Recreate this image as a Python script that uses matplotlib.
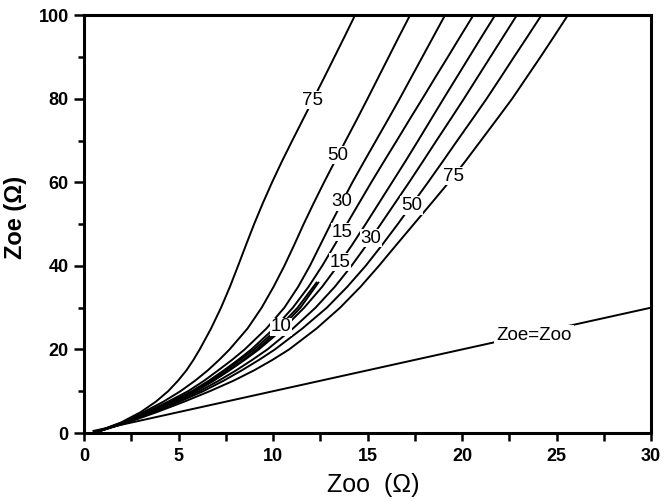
import numpy as np
import matplotlib
matplotlib.use("Agg")
import matplotlib.pyplot as plt
from matplotlib.ticker import MultipleLocator

# Zoe levels at which each curve's Zoo value was read
zoe_levels = [0, 2.5, 5, 7.5, 10, 12.5, 15, 17.5, 20, 25, 30, 35, 40, 45,
              50, 55, 60, 65, 70, 75, 80, 85, 90, 95, 100]

# left family
c75a = [0.5, 1.95, 3.0, 3.8, 4.45, 4.97, 5.42, 5.79, 6.12, 6.72, 7.25, 7.72, 8.15, 8.57,
        9.0, 9.46, 9.95, 10.47, 11.02, 11.58, 12.14, 12.7, 13.25, 13.8, 14.34]
c50a = [0.5, 2.0, 3.15, 4.2, 5.1, 5.87, 6.55, 7.15, 7.7, 8.65, 9.4, 10.03, 10.6, 11.12,
        11.62, 12.15, 12.7, 13.27, 13.85, 14.43, 15.0, 15.56, 16.12, 16.68, 17.25]
c30a = [0.5, 2.05, 3.3, 4.45, 5.5, 6.35, 7.1, 7.83, 8.5, 9.65, 10.6, 11.33, 11.95, 12.5,
        13.05, 13.62, 14.2, 14.82, 15.45, 16.08, 16.7, 17.3, 17.9, 18.5, 19.1]
c15a = [0.5, 2.1, 3.4, 4.6, 5.7, 6.6, 7.4, 8.15, 8.85, 10.05, 11.05, 11.88, 12.6, 13.26,
        13.9, 14.55, 15.2, 15.87, 16.55, 17.22, 17.9, 18.57, 19.25, 19.92, 20.6]
# right family
c15b = [0.5, 2.15, 3.5, 4.75, 5.9, 6.85, 7.7, 8.5, 9.25, 10.55, 11.65, 12.6, 13.42, 14.18,
        14.9, 15.6, 16.3, 17.0, 17.68, 18.35, 19.02, 19.7, 20.38, 21.06, 21.75]
c30b = [0.5, 2.2, 3.6, 4.9, 6.1, 7.12, 8.05, 8.9, 9.7, 11.05, 12.25, 13.27, 14.15, 14.95,
        15.7, 16.45, 17.2, 17.93, 18.65, 19.38, 20.1, 20.8, 21.5, 22.2, 22.9]
c50b = [0.5, 2.25, 3.7, 5.05, 6.3, 7.38, 8.35, 9.26, 10.1, 11.55, 12.85, 13.93, 14.9, 15.77,
        16.6, 17.4, 18.2, 18.98, 19.75, 20.53, 21.3, 22.03, 22.75, 23.48, 24.2]
c75b = [0.5, 2.3, 3.85, 5.3, 6.65, 7.9, 9.0, 9.97, 10.85, 12.3, 13.55, 14.63, 15.6, 16.52,
        17.45, 18.38, 19.3, 20.17, 21.0, 21.83, 22.65, 23.4, 24.15, 24.88, 25.6]

# short "10" curves (both families)
zoe_short = [0, 2.5, 5, 7.5, 10, 12.5, 15, 17.5, 20, 25, 30, 36]
c10a = [0.5, 2.1, 3.4, 4.65, 5.8, 6.7, 7.5, 8.27, 9.0, 10.25, 11.3, 12.3]
c10b = [0.5, 2.12, 3.45, 4.72, 5.9, 6.82, 7.65, 8.43, 9.15, 10.4, 11.45, 12.4]

# Zoe = Zoo reference line
ref_zoo = [0.5, 30]
ref_zoe = [0.5, 30]

curves = [c75a, c50a, c30a, c15a, c15b, c30b, c50b, c75b]
curve_labels = ["75", "50", "30", "15", "15", "30", "50", "75"]
label_zoe = [79.7, 66.5, 55.3, 48.1, 40.9, 46.65, 54.5, 61.5]

fig = plt.figure(figsize=(6.64, 5.01), dpi=100)
ax = fig.add_axes([0.1265, 0.1357, 0.854, 0.834])

lw = 1.4
for c in curves:
    ax.plot(c, zoe_levels, color="black", lw=lw, zorder=2, solid_joinstyle="round")
ax.plot(c10a, zoe_short, color="black", lw=lw, zorder=2, solid_joinstyle="round")
ax.plot(c10b, zoe_short, color="black", lw=lw, zorder=2, solid_joinstyle="round")
ax.plot(ref_zoo, ref_zoe, color="black", lw=lw, zorder=2)

lbl_font = dict(family="Liberation Sans", fontsize=13.5, ha="center", va="center", zorder=5)
bbox = dict(facecolor="white", edgecolor="none", pad=0.5)
for c, t, z in zip(curves, curve_labels, label_zoe):
    x = np.interp(z, zoe_levels, c)
    ax.text(x, z, t, bbox=bbox, **lbl_font)
ax.text(np.interp(25.4, zoe_short, c10a) + 0.1, 25.4, "10", bbox=bbox, **lbl_font)
ax.text(23.8, 23.4, "Zoe=Zoo", bbox=dict(facecolor="white", edgecolor="none", pad=1.5), **lbl_font)

ax.set_xlim(0, 30)
ax.set_ylim(0, 100)
ax.xaxis.set_major_locator(MultipleLocator(5))
ax.xaxis.set_minor_locator(MultipleLocator(2.5))
ax.yaxis.set_major_locator(MultipleLocator(20))
ax.yaxis.set_minor_locator(MultipleLocator(10))
ax.tick_params(which="both", direction="out", top=False, right=False, width=1.8)
ax.tick_params(axis="x", which="both", length=6, pad=5)
ax.tick_params(axis="y", which="major", length=7, pad=4)
ax.tick_params(axis="y", which="minor", length=4)
for s in ax.spines.values():
    s.set_linewidth(2.2)

tick_family = ["Liberation Sans Narrow", "Liberation Sans", "DejaVu Sans"]
for lab in ax.get_xticklabels() + ax.get_yticklabels():
    lab.set_family(tick_family)
    lab.set_fontweight("bold")
    lab.set_fontsize(13)

ax.set_xlabel("Zoo  (Ω)", family="Liberation Sans", fontsize=18, labelpad=3)
ax.xaxis.set_label_coords(0.51, -0.095)
ax.set_ylabel("Zoe (Ω)", family="Liberation Sans", fontsize=17, fontweight="bold")
ax.yaxis.set_label_coords(-0.10, 0.515)

fig.savefig("out.png", dpi=100)
